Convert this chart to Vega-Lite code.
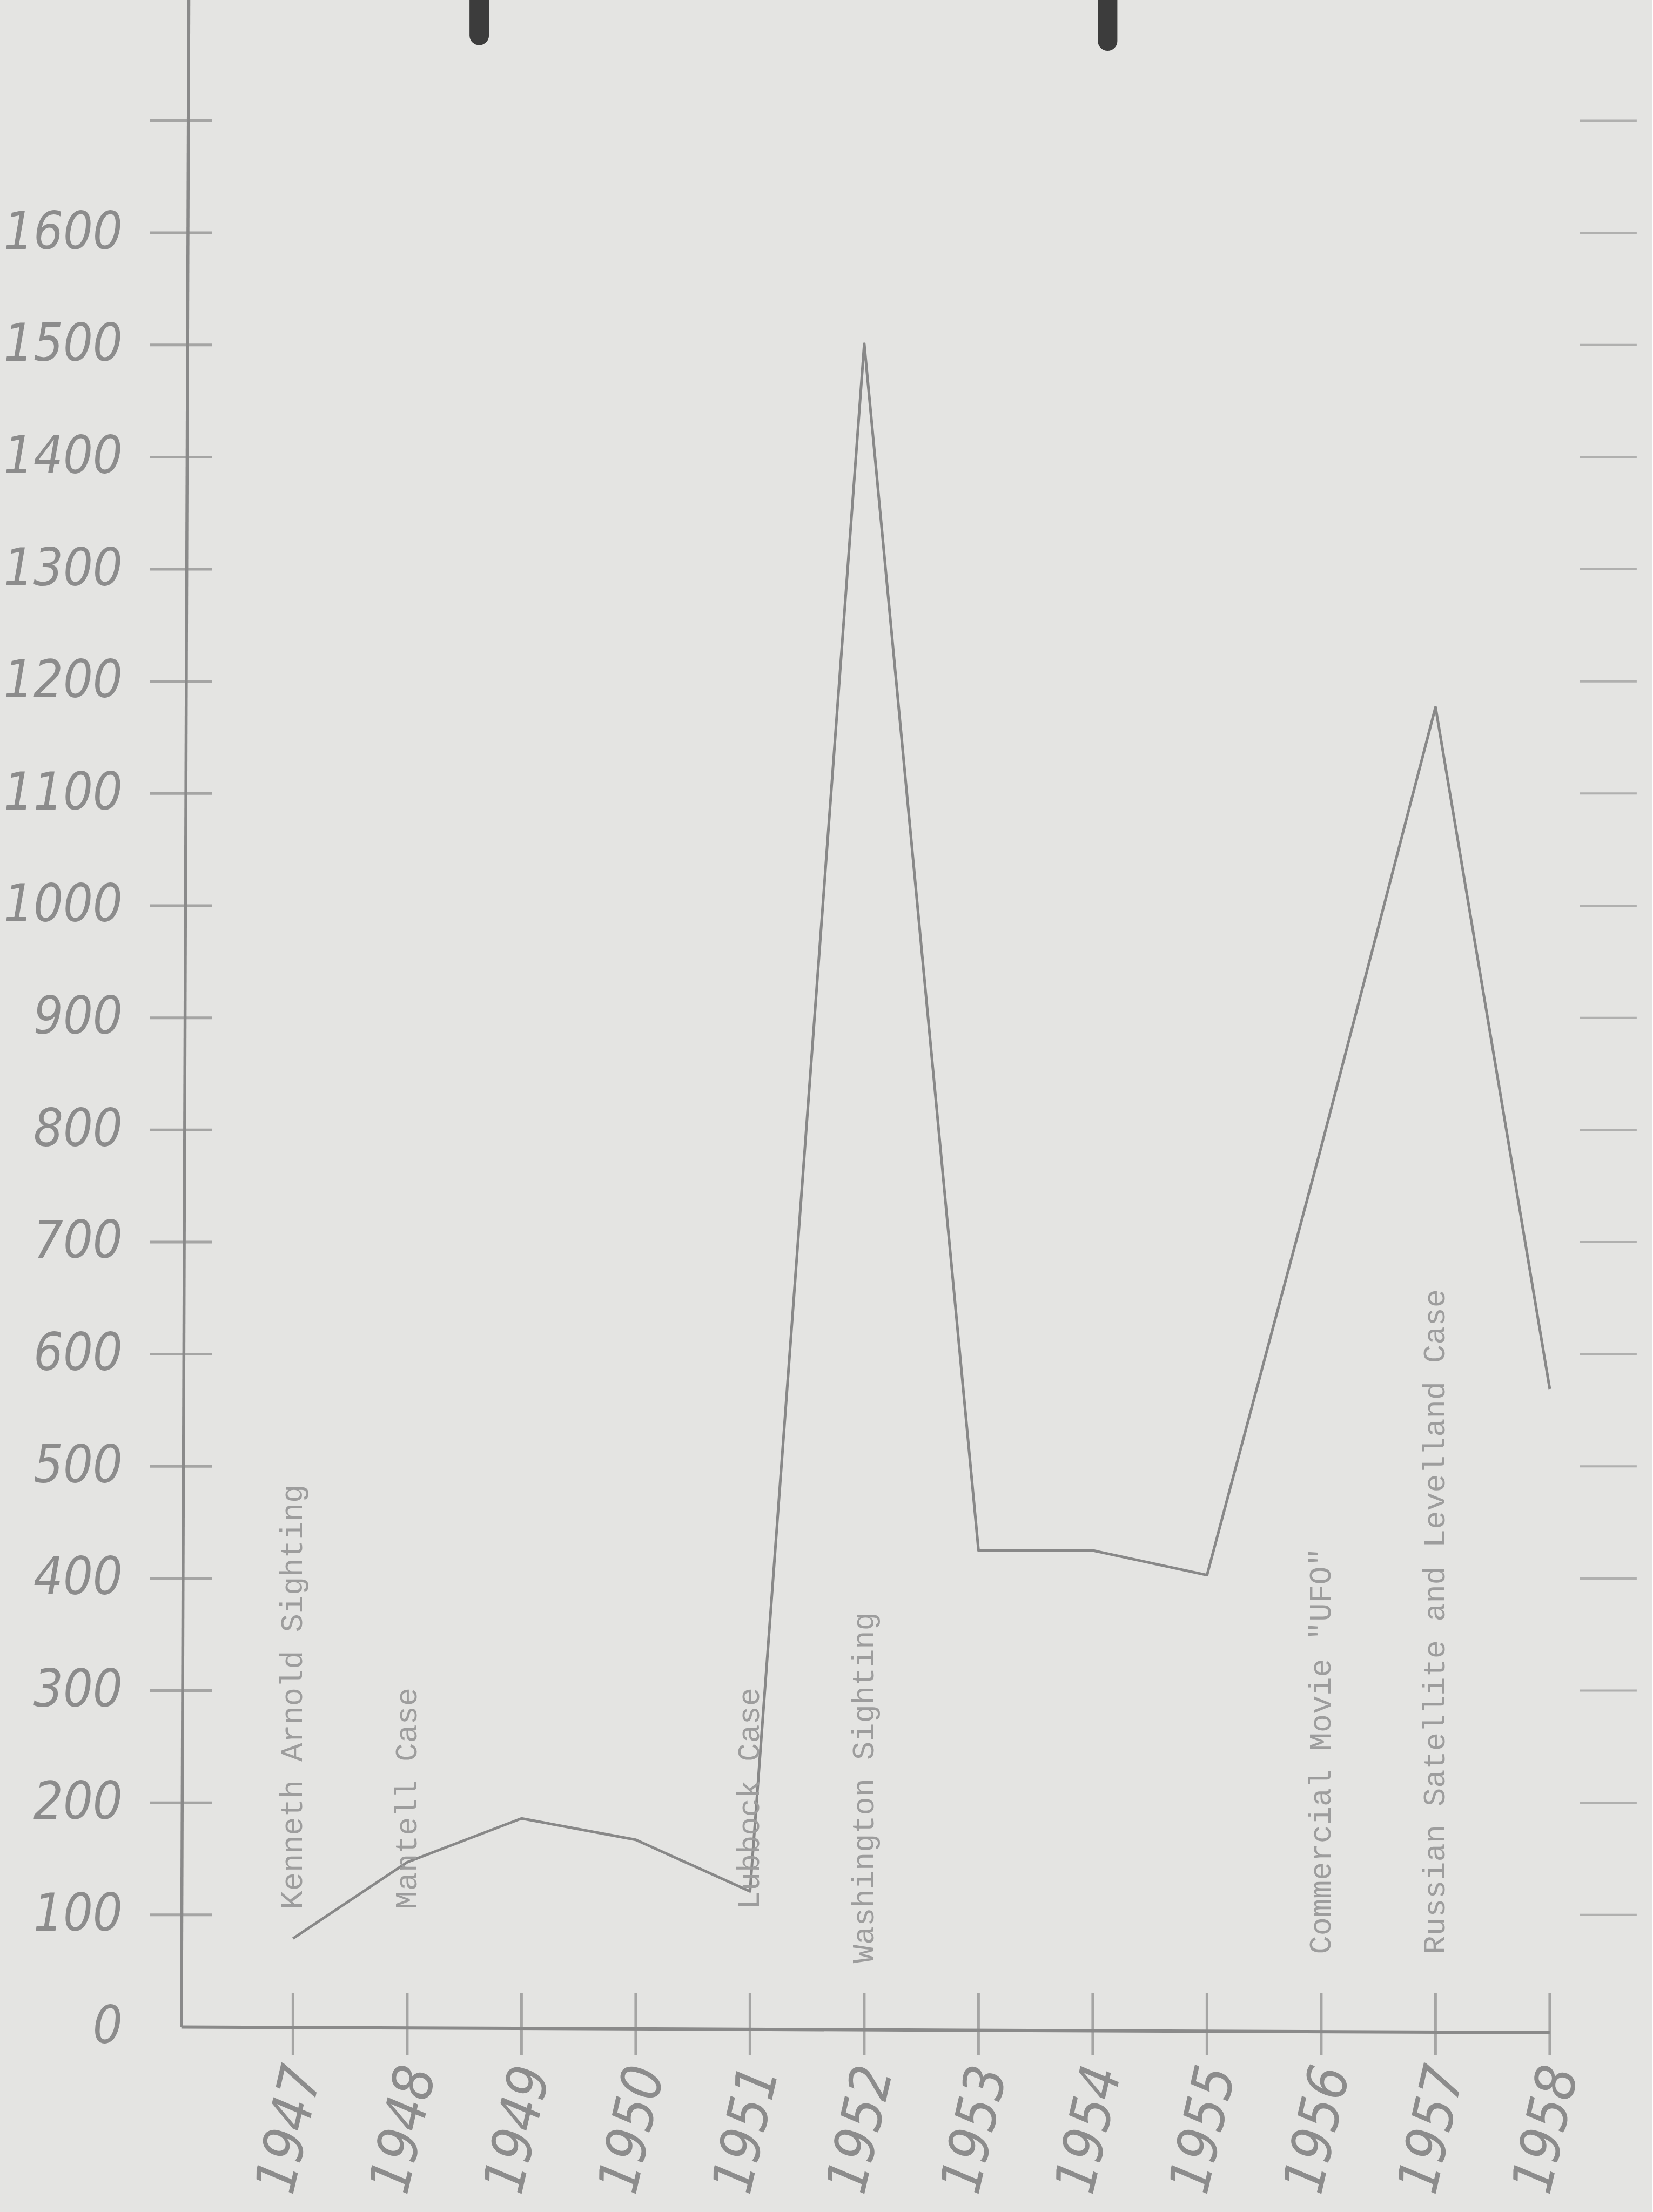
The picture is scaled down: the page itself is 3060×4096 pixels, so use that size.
{
  "$schema": "https://vega.github.io/schema/vega-lite/v6.json",
  "autosize": {"type": "none"},
  "width": 2812.95,
  "height": 3753.5,
  "padding": {"left": 246.3, "top": 0, "right": 0, "bottom": 342.5},
  "background": "#e4e4e2",
  "config": {"view": {"stroke": null}},
  "datasets": {
    "sightings": [
      {"year": 1947, "count": 79},
      {"year": 1948, "count": 147},
      {"year": 1949, "count": 186},
      {"year": 1950, "count": 167},
      {"year": 1951, "count": 121},
      {"year": 1952, "count": 1501},
      {"year": 1953, "count": 425},
      {"year": 1954, "count": 425},
      {"year": 1955, "count": 403},
      {"year": 1956, "count": 785},
      {"year": 1957, "count": 1177},
      {"year": 1958, "count": 569}
    ],
    "levels": [
      {"v": 100}, {"v": 200}, {"v": 300}, {"v": 400}, {"v": 500}, {"v": 600},
      {"v": 700}, {"v": 800}, {"v": 900}, {"v": 1000}, {"v": 1100}, {"v": 1200},
      {"v": 1300}, {"v": 1400}, {"v": 1500}, {"v": 1600}, {"v": 1700}
    ],
    "events": [
      {"year": 1947, "pos": 105, "label": "Kenneth Arnold Sighting"},
      {"year": 1948, "pos": 105, "label": "Mantell Case"},
      {"year": 1951, "pos": 105, "label": "Lubbock Case"},
      {"year": 1952, "pos": 57, "label": "Washington Sighting"},
      {"year": 1956, "pos": 65, "label": "Commercial Movie \"UFO\""},
      {"year": 1957, "pos": 65, "label": "Russian Satellite and Levelland Case"}
    ],
    "one": [{"k": 1}]
  },
  "layer": [
    {
      "data": {"name": "sightings"},
      "mark": {"type": "line", "color": "#888888", "strokeWidth": 5, "strokeJoin": "round"},
      "encoding": {
        "x": {
          "field": "year", "type": "quantitative",
          "scale": {"domain": [1945.6, 1958.9], "nice": false, "zero": false},
          "axis": {
            "title": null, "values": [1947, 1948, 1949, 1950, 1951, 1952, 1953, 1954, 1955, 1956, 1957, 1958],
            "format": "d", "domain": false, "ticks": false, "tickSize": 0, "grid": false,
            "labelAngle": -77, "labelAlign": "right", "labelBaseline": "middle",
            "labelPadding": 74, "labelOffset": 22, "labelLimit": 0,
            "labelFont": "DejaVu Sans Condensed, DejaVu Sans, sans-serif",
            "labelFontStyle": "italic", "labelFontWeight": "normal",
            "labelFontSize": 104, "labelColor": "#8c8c8c", "labelOverlap": false
          }
        },
        "y": {
          "field": "count", "type": "quantitative",
          "scale": {"domain": [0, 1807.6], "nice": false, "zero": false},
          "axis": {
            "title": null, "values": [0, 100, 200, 300, 400, 500, 600, 700, 800, 900, 1000, 1100, 1200, 1300, 1400, 1500, 1600],
            "format": "d", "domain": false, "ticks": false, "tickSize": 0, "grid": false,
            "labelPadding": 20, "labelAlign": "right", "labelBaseline": "middle", "labelLimit": 0,
            "labelFont": "DejaVu Sans Condensed, DejaVu Sans, sans-serif",
            "labelFontStyle": "italic", "labelFontWeight": "normal",
            "labelFontSize": 96, "labelColor": "#8c8c8c", "labelOverlap": false
          }
        }
      }
    },
    {
      "data": {"name": "one"},
      "mark": {"type": "rule", "color": "#8a8a8a", "strokeWidth": 5.5},
      "encoding": {
        "x": {"datum": 1946.088, "type": "quantitative"},
        "x2": {"datum": 1946.023},
        "y": {"datum": 1807.6, "type": "quantitative"},
        "y2": {"datum": 0}
      }
    },
    {
      "data": {"name": "one"},
      "mark": {"type": "rule", "color": "#8a8a8a", "strokeWidth": 6},
      "encoding": {
        "x": {"datum": 1946.023, "type": "quantitative"},
        "x2": {"datum": 1958},
        "y": {"datum": 0, "type": "quantitative"},
        "y2": {"datum": -5}
      }
    },
    {
      "data": {"name": "levels"},
      "mark": {"type": "tick", "orient": "horizontal", "color": "#8a8a8a", "size": 115, "thickness": 5},
      "encoding": {
        "x": {"datum": 1946.02, "type": "quantitative"},
        "y": {"field": "v", "type": "quantitative", "title": null}
      }
    },
    {
      "data": {"name": "levels"},
      "mark": {"type": "tick", "orient": "horizontal", "color": "#9a9a9a", "size": 105, "thickness": 4},
      "encoding": {
        "x": {"datum": 1958.513, "type": "quantitative"},
        "y": {"field": "v", "type": "quantitative", "title": null}
      }
    },
    {
      "data": {"name": "sightings"},
      "mark": {"type": "tick", "orient": "vertical", "color": "#8a8a8a", "size": 115, "thickness": 5},
      "encoding": {
        "x": {"field": "year", "type": "quantitative", "title": null},
        "y": {"datum": 2.8, "type": "quantitative"}
      }
    },
    {
      "data": {"name": "events"},
      "mark": {
        "type": "text", "angle": 270, "align": "left", "baseline": "middle",
        "font": "Liberation Mono, DejaVu Sans Mono, monospace", "fontSize": 57, "color": "#9d9d9d"
      },
      "encoding": {
        "x": {"field": "year", "type": "quantitative", "title": null},
        "y": {"field": "pos", "type": "quantitative", "title": null},
        "text": {"field": "label", "type": "nominal"}
      }
    },
    {
      "data": {"name": "one"},
      "mark": {"type": "rule", "color": "#3c3c3c", "strokeWidth": 36, "strokeCap": "round"},
      "encoding": {
        "x": {"datum": 1948.63, "type": "quantitative"},
        "y": {"datum": 1815, "type": "quantitative"},
        "y2": {"datum": 1776}
      }
    },
    {
      "data": {"name": "one"},
      "mark": {"type": "rule", "color": "#3c3c3c", "strokeWidth": 36, "strokeCap": "round"},
      "encoding": {
        "x": {"datum": 1954.13, "type": "quantitative"},
        "y": {"datum": 1815, "type": "quantitative"},
        "y2": {"datum": 1771}
      }
    }
  ]
}
